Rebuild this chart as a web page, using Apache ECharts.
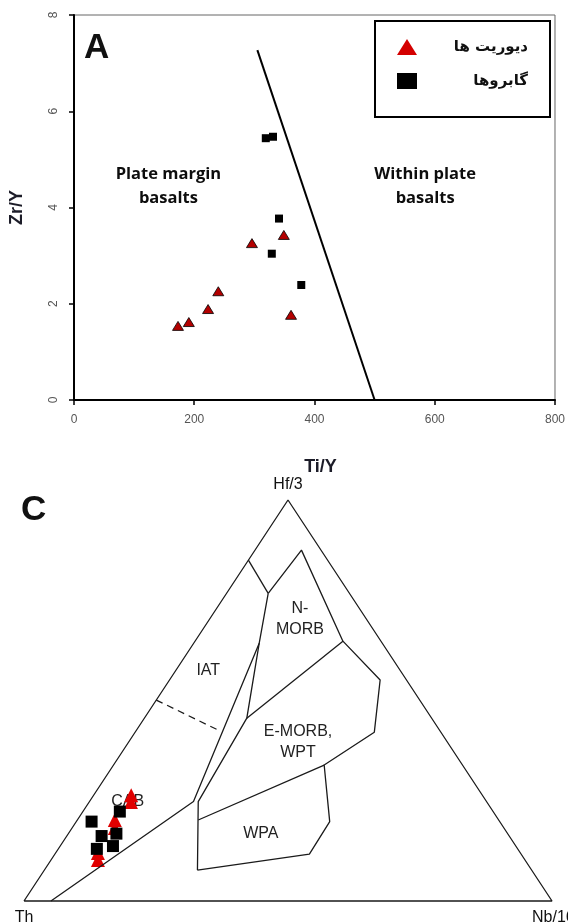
<!DOCTYPE html>
<html>
<head>
<meta charset="utf-8">
<script src="https://cdn.jsdelivr.net/npm/echarts@6/dist/echarts.min.js"></script>
<style>html,body{margin:0;padding:0;background:#fff}</style>
</head>
<body>
<div id="chart" style="width:568px;height:923px;"></div>
<script>
// plot A : Zr/Y against Ti/Y
var xTicks = [0, 200, 400, 600, 800];
var yTicks = [0, 2, 4, 6, 8];
var dioriteA = [[173,1.54],[191,1.62],[223,1.89],[240,2.26],[296,3.26],[349,3.43],[361,1.77]];
var gabbroA = [[319,5.44],[331,5.47],[341,3.77],[329,3.04],[378,2.39]];
var dividerA = [[305,7.27],[500,0]];

// plot C : ternary Th - Hf/3 - Nb/16, every point as [Th, Hf/3, Nb/16] percent
var frameC = [[100,0,0],[0,100,0],[0,0,100],[100,0,0]];
var fieldLines = [
  [[15.0,85.0,0],[15.4,76.7,7.9]],
  [[15.4,76.7,7.9],[3.7,87.5,8.8],[7.2,64.8,28.0]],
  [[15.4,76.7,7.9],[23.3,64.3,12.4],[55.6,24.8,19.7],[94.9,0,5.1]],
  [[23.3,64.3,12.4],[35.0,45.6,19.4],[54.6,24.8,20.6],[63.2,7.7,29.0]],
  [[35.0,45.6,19.4],[7.2,64.8,28.0]],
  [[7.2,64.8,28.0],[5.0,55.1,39.9],[12.6,42.1,45.3],[26.2,33.9,39.9],[32.2,19.8,48.0],[40.1,11.7,48.2],[63.2,7.7,29.0]],
  [[26.2,33.9,39.9],[56.9,20.2,22.9]]
];
var dashLine = [[49.9,50.1,0],[41.9,42.6,15.5]];
var dioriteC = [[66.5,26.4,7.1],[67.4,24.7,7.9],[72.7,20.2,7.1],[73.7,18.2,8.1],[80.1,12.0,8.0],[80.9,10.2,8.9]];
var gabbroC = [[70.7,22.3,7.0],[77.3,19.8,2.9],[77.2,16.2,6.6],[74.0,16.8,9.1],[76.3,13.7,10.0],[79.7,13.0,7.3]];
var fieldNames = ['IAT', 'N-\nMORB', 'E-MORB,\nWPT', 'WPA', 'CAB'];
var vertexNames = ['Th', 'Hf/3', 'Nb/16'];
var groupNames = ['دیوریت ها', 'گابروها'];

// ternary -> x along the base, y up to the Hf/3 apex
function toXY(p) {
  return [p[2] / 100 + p[1] / 200, p[1] / 100];
}

var myChart = echarts.init(document.getElementById('chart'));

var lineC = {color: '#1a1a1a', width: 1.3};
var centred = {position: [0, 0], align: 'center', verticalAlign: 'middle'};
var series = [
  {
    name: 'divider', type: 'line', xAxisIndex: 0, yAxisIndex: 0,
    data: dividerA, symbol: 'none', silent: true,
    lineStyle: {color: '#000', width: 2}
  },
  {
    name: groupNames[0], type: 'scatter', xAxisIndex: 0, yAxisIndex: 0,
    data: dioriteA, symbol: 'triangle', symbolSize: [11, 9],
    itemStyle: {color: '#b30000', borderColor: '#000', borderWidth: 0.8, opacity: 1}
  },
  {
    name: groupNames[1], type: 'scatter', xAxisIndex: 0, yAxisIndex: 0,
    data: gabbroA, symbol: 'rect', symbolSize: 8,
    itemStyle: {color: '#000', opacity: 1}
  },
  {
    type: 'scatter', xAxisIndex: 0, yAxisIndex: 0, symbolSize: 0, silent: true,
    itemStyle: {opacity: 1},
    data: [{value: [157, 4.45], name: 'Plate margin\nbasalts'}, {value: [584, 4.45], name: 'Within plate\nbasalts'}],
    label: Object.assign({
      show: true, formatter: '{b}', color: '#0d0d0d',
      fontFamily: 'Open Sans', fontWeight: 'bold', fontSize: 16.5, lineHeight: 24
    }, centred)
  },
  {
    type: 'line', xAxisIndex: 1, yAxisIndex: 1, data: frameC.map(toXY),
    symbol: 'none', silent: true, clip: false, lineStyle: lineC
  }
];
fieldLines.forEach(function (pts) {
  series.push({
    type: 'line', xAxisIndex: 1, yAxisIndex: 1, data: pts.map(toXY),
    symbol: 'none', silent: true, clip: false, lineStyle: lineC
  });
});
series.push({
  type: 'line', xAxisIndex: 1, yAxisIndex: 1, data: dashLine.map(toXY),
  symbol: 'none', silent: true, clip: false,
  lineStyle: {color: '#1a1a1a', width: 1.2, type: [7, 5]}
});
series.push({
  name: groupNames[0], type: 'scatter', xAxisIndex: 1, yAxisIndex: 1,
  data: dioriteC.map(toXY), symbol: 'triangle', symbolSize: [14, 14],
  itemStyle: {color: '#e00000', opacity: 1}
});
series.push({
  name: groupNames[1], type: 'scatter', xAxisIndex: 1, yAxisIndex: 1,
  data: gabbroC.map(toXY), symbol: 'rect', symbolSize: 12,
  itemStyle: {color: '#000', opacity: 1}
});
// field names
var fieldAt = [[36.5,57.4,6.2],[12.6,70.3,17.1],[28.3,39.6,32.1],[46.8,16.7,36.5],[68.0,24.7,7.3]];
series.push({
  type: 'scatter', xAxisIndex: 1, yAxisIndex: 1, symbolSize: 0, silent: true, z: 1,
  itemStyle: {opacity: 1},
  data: fieldNames.map(function (n, i) { return {value: toXY(fieldAt[i]), name: n}; }),
  label: Object.assign({
    show: true, formatter: '{b}', color: '#222',
    fontFamily: 'Liberation Sans', fontSize: 16, lineHeight: 21
  }, centred)
});
// corner names
var vertexLabel = [
  {position: 'bottom', distance: 9},
  {position: 'top', distance: 7},
  {position: 'bottom', distance: 9, align: 'left', offset: [-20, 0]}
];
series.push({
  type: 'scatter', xAxisIndex: 1, yAxisIndex: 1, symbolSize: 0, silent: true,
  itemStyle: {opacity: 1},
  data: vertexNames.map(function (n, i) {
    return {value: toXY(frameC[i]), name: n, label: vertexLabel[i]};
  }),
  label: {
    show: true, formatter: '{b}', color: '#111',
    fontFamily: 'Liberation Sans', fontSize: 16
  }
});

var option = {
  animation: false,
  title: [
    {text: 'A', left: 84, top: 31, padding: 0,
      textStyle: {fontSize: 35, fontWeight: 'bold', fontFamily: 'Liberation Sans', color: '#111'}},
    {text: 'C', left: 21, top: 493, padding: 0,
      textStyle: {fontSize: 35, fontWeight: 'bold', fontFamily: 'Liberation Sans', color: '#111'}}
  ],
  legend: {
    left: 375, top: 21, orient: 'vertical',
    borderColor: '#000', borderWidth: 2, padding: [18, 22, 28, 22],
    itemWidth: 20, itemHeight: 16, itemGap: 18,
    data: [
      {name: groupNames[0], icon: 'triangle', itemStyle: {color: '#d40000', borderWidth: 0, opacity: 1}},
      {name: groupNames[1], icon: 'rect', itemStyle: {color: '#000', borderWidth: 0, opacity: 1}}
    ],
    formatter: '{t|{name}}',
    textStyle: {
      rich: {t: {width: 106, align: 'right', fontSize: 15, fontWeight: 'bold', fontFamily: 'DejaVu Sans', color: '#111'}}
    }
  },
  grid: [
    {left: 74, top: 15, width: 481, height: 385, show: true, borderColor: '#666', borderWidth: 1},
    {left: 24, top: 500, width: 528, height: 401}
  ],
  xAxis: [
    {
      gridIndex: 0, type: 'value', min: xTicks[0], max: xTicks[xTicks.length - 1], interval: 200,
      name: 'Ti/Y', nameLocation: 'middle', nameGap: 58,
      nameTextStyle: {fontSize: 18, fontWeight: 'bold', fontFamily: 'Liberation Sans', color: '#1c1c28', padding: [0, 0, 0, 12]},
      axisLine: {lineStyle: {color: '#000', width: 2}},
      axisTick: {length: 5, lineStyle: {color: '#000', width: 1.5}},
      axisLabel: {color: '#555', fontSize: 12, margin: 14, fontFamily: 'Liberation Sans'},
      splitLine: {show: false}
    },
    {gridIndex: 1, type: 'value', min: 0, max: 1, show: false}
  ],
  yAxis: [
    {
      gridIndex: 0, type: 'value', min: yTicks[0], max: yTicks[yTicks.length - 1], interval: 2,
      name: 'Zr/Y', nameLocation: 'middle', nameGap: 48, nameRotate: 90,
      nameTextStyle: {fontSize: 18, fontWeight: 'bold', fontFamily: 'Liberation Sans', color: '#1c1c28'},
      axisLine: {lineStyle: {color: '#000', width: 2}},
      axisTick: {length: 5, lineStyle: {color: '#000', width: 1.5}},
      axisLabel: {color: '#555', fontSize: 12, margin: 14, rotate: 90, fontFamily: 'Liberation Sans'},
      splitLine: {show: false}
    },
    {gridIndex: 1, type: 'value', min: 0, max: 1, show: false}
  ],
  series: series
};

myChart.setOption(option);
</script>
</body>
</html>
